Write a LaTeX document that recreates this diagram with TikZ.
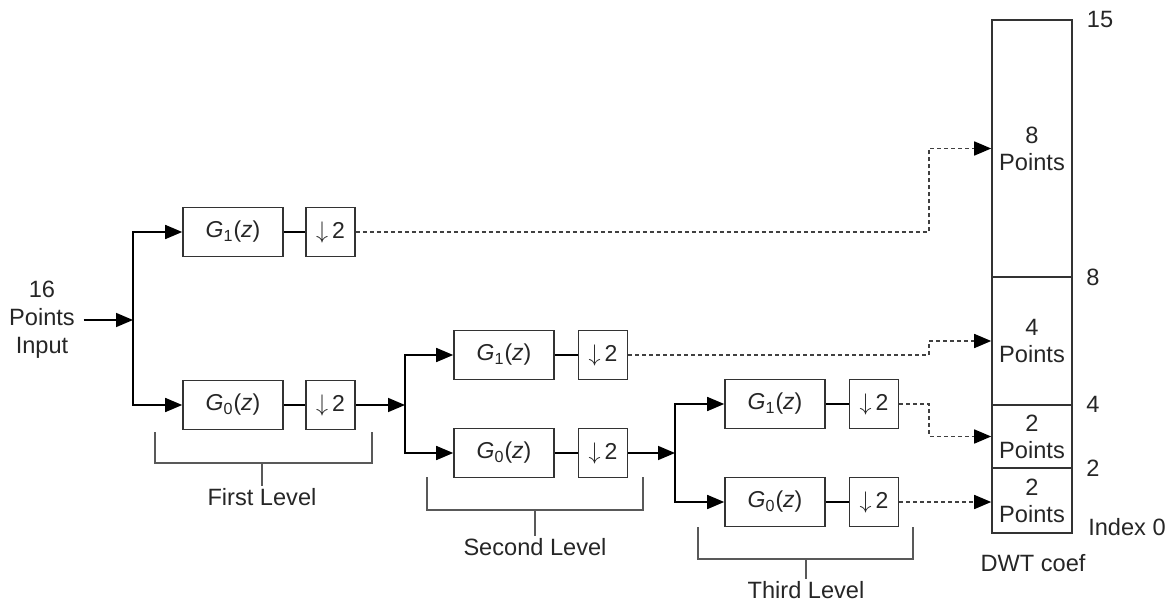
\documentclass[tikz,border=0pt]{standalone}
\usepackage{fontspec}
\setmainfont{Liberation Sans}
\usetikzlibrary{arrows.meta,calc}
\begin{document}
\begin{tikzpicture}[x=0.5pt,y=-0.5pt,line width=0.8pt,
  every node/.style={text=black!85},
  filt/.style={draw=black!80, minimum width=50pt, minimum height=24.5pt, inner sep=0pt, font=\fontsize{11.5}{12}\selectfont},
  dn/.style={draw=black!80, minimum width=24.5pt, minimum height=24.5pt, inner sep=0pt, font=\fontsize{11.5}{12}\selectfont},
  cell/.style={draw=black!80, minimum width=40pt, inner sep=0pt, align=center, font=\fontsize{11.8}{13.5}\selectfont},
  lab/.style={font=\fontsize{11.8}{13.5}\selectfont, inner sep=1pt},
  arr/.style={-{Triangle[length=8.5pt,width=7pt,color=black]}},
  dsh/.style={draw=black!75, dash pattern=on 2pt off 1.5pt},
  brk/.style={draw=black!65}]
\useasboundingbox (0,0) rectangle (1170,604);

% input
\node[lab, align=center, font=\fontsize{11.8}{14}\selectfont] (inp) at (42,320) {16\\Points\\Input};
\coordinate (b1) at (133,320);

% level 1
\node[filt] (g1a) at (233,232) {\textit{G}\textsubscript{1}(\textit{z})};
\node[dn] (d1a) at (330.5,232) {$\downarrow$\,2};
\node[filt] (g0a) at (233,405) {\textit{G}\textsubscript{0}(\textit{z})};
\node[dn] (d0a) at (330.5,405) {$\downarrow$\,2};
\coordinate (b2) at (405,405);

% level 2
\node[filt] (g1b) at (504,355) {\textit{G}\textsubscript{1}(\textit{z})};
\node[dn] (d1b) at (603,355) {$\downarrow$\,2};
\node[filt] (g0b) at (504,453) {\textit{G}\textsubscript{0}(\textit{z})};
\node[dn] (d0b) at (603,453) {$\downarrow$\,2};
\coordinate (b3) at (675,453);

% level 3
\node[filt] (g1c) at (775,404) {\textit{G}\textsubscript{1}(\textit{z})};
\node[dn] (d1c) at (874,404) {$\downarrow$\,2};
\node[filt] (g0c) at (775,502) {\textit{G}\textsubscript{0}(\textit{z})};
\node[dn] (d0c) at (874,502) {$\downarrow$\,2};

% DWT column
\node[cell, minimum height=128.5pt] (c8) at (1032,148.5) {8\\Points};
\node[cell, minimum height=64pt] (c4) at (1032,341) {4\\Points};
\node[cell, minimum height=31.5pt] (c2a) at (1032,436.5) {2\\Points};
\node[cell, minimum height=32.5pt] (c2b) at (1032,500.5) {2\\Points};
\node[lab] (i15) at (1100,20) {15};
\node[lab] (i8) at (1093,277) {8};
\node[lab] (i4) at (1093,404) {4};
\node[lab] (i2) at (1093,468) {2};
\node[lab] (i0) at (1127,527) {Index 0};
\node[lab] (dwt) at (1033,563) {DWT coef};

% solid connectors
\draw[arr] ([xshift=3pt]inp.east) -- (b1);
\draw[arr] (b1) |- (g1a.west);
\draw[arr] (b1) |- (g0a.west);
\draw (g1a) -- (d1a);
\draw (g0a) -- (d0a);
\draw[arr] (d0a.east) -- (b2);
\draw[arr] (b2) |- (g1b.west);
\draw[arr] (b2) |- (g0b.west);
\draw (g1b) -- (d1b);
\draw (g0b) -- (d0b);
\draw[arr] (d0b.east) -- (b3);
\draw[arr] (b3) |- (g1c.west);
\draw[arr] (b3) |- (g0c.west);
\draw (g1c) -- (d1c);
\draw (g0c) -- (d0c);

% dashed connectors
\draw[dsh, arr] (d1a.east) -| ([xshift=-31pt]c8.west) -- (c8.west);
\draw[dsh, arr] (d1b.east) -| ([xshift=-31pt]c4.west) -- (c4.west);
\draw[dsh, arr] (d1c.east) -| ([xshift=-31pt]c2a.west) -- (c2a.west);
\draw[dsh, arr] (d0c.east) -- (d0c.east -| c2b.west);

% level brackets
\node[lab] (l1) at (262,497) {First Level};
\draw[brk] (155,432) |- (372,463) -- (372,432);
\draw[brk] (262,463) -- (l1.north);
\node[lab] (l2) at (535,547) {Second Level};
\draw[brk] (427,477) |- (643,510) -- (643,477);
\draw[brk] (535,510) -- (l2.north);
\node[lab] (l3) at (806,590) {Third Level};
\draw[brk] (698,527) |- (913,559) -- (913,527);
\draw[brk] (806,559) -- (l3.north);
\end{tikzpicture}
\end{document}
